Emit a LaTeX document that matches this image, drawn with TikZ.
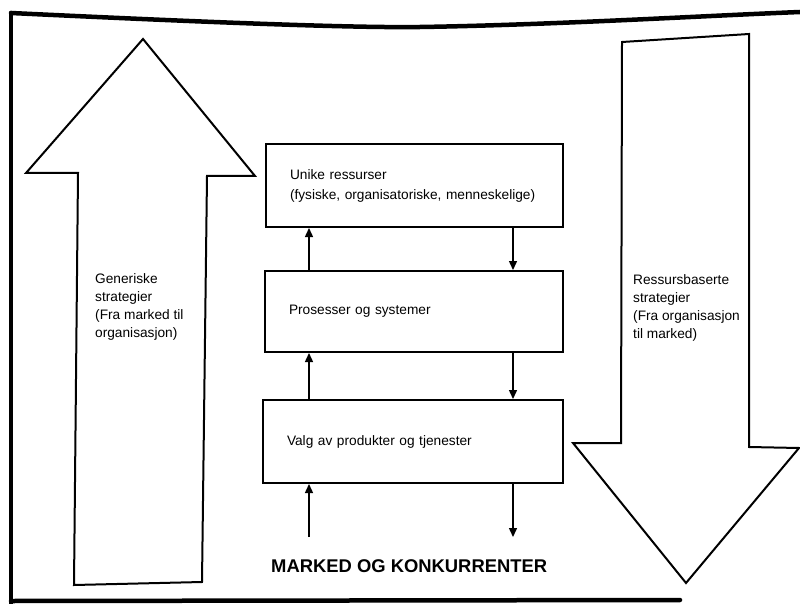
\documentclass[tikz,border=0pt]{standalone}
\usepackage{fontspec}
\setmainfont{Liberation Sans}
\usetikzlibrary{arrows.meta}
\begin{document}
\begin{tikzpicture}[x=1pt,y=-1pt,
  frameline/.style={line width=4.5pt,line cap=round},
  bigarrow/.style={draw,line width=2pt,line join=miter},
  stagebox/.style={draw,line width=2pt,rectangle,inner sep=0pt,align=left,
    font=\fontsize{13.7}{20}\selectfont},
  sidetext/.style={anchor=north west,inner sep=0pt,align=left,
    font=\fontsize{13.7}{18.2}\selectfont},
  flow/.style={line width=1.4pt,-{Triangle[length=9pt,width=8pt]}}]
\useasboundingbox (0,0) rectangle (800,604);
% frame
\draw[frameline] (11,13) .. controls (200,22) and (350,28) .. (420,27)
  .. controls (550,25) and (700,16) .. (800,12);
\draw[frameline] (11,13) -- (11,606);
\draw[frameline] (11,601) -- (680,600);
% left big arrow (up)
\draw[bigarrow] (143,39) -- (255,176) -- (207,176) -- (202,582) -- (74,585)
  -- (78,173) -- (26,173) -- cycle;
% right big arrow (down)
\draw[bigarrow] (622,42) -- (749,34) -- (749,447) -- (799,448) -- (686,583)
  -- (573,443) -- (621,443) -- cycle;
% side texts
\node[sidetext] (gen) at (95,273) {Generiske\\strategier\\(Fra marked til\\organisasjon)};
\node[sidetext] (res) at (633,274) {Ressursbaserte\\strategier\\(Fra organisasjon\\til marked)};
% boxes
\node[stagebox,minimum width=297pt,minimum height=83pt,text width=249pt] (b1) at (414.5,185.5)
  {Unike ressurser\\(fysiske, organisatoriske, menneskelige)};
\node[stagebox,minimum width=298pt,minimum height=81pt,text width=250pt] (b2) at (414,311.5)
  {Prosesser og systemer};
\node[stagebox,minimum width=300pt,minimum height=83pt,text width=252pt] (b3) at (413,441.5)
  {Valg av produkter og tjenester};
% market label
\node[anchor=base west,inner sep=0pt,font=\fontsize{18.4}{22}\selectfont\bfseries] (mk) at (271,572)
  {MARKED OG KONKURRENTER};
% flow arrows
\coordinate (ux) at (309,0);
\coordinate (dx) at (513,0);
\coordinate (mtop) at (0,537);
\draw[flow] (b2.north -| ux) -- (b1.south -| ux);
\draw[flow] (b1.south -| dx) -- (b2.north -| dx);
\draw[flow] (b3.north -| ux) -- (b2.south -| ux);
\draw[flow] (b2.south -| dx) -- (b3.north -| dx);
\draw[flow] (mtop -| ux) -- (b3.south -| ux);
\draw[flow] (b3.south -| dx) -- (mtop -| dx);
\end{tikzpicture}
\end{document}
